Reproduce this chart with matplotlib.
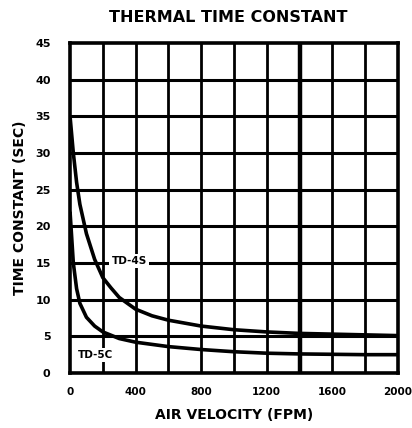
import matplotlib
matplotlib.use("Agg")
import matplotlib.pyplot as plt
import numpy as np

# Air velocity (FPM) and thermal time constant (s) for each sensor
td4s_velocity = [0, 20, 40, 60, 100, 150, 200, 250, 300, 400, 500, 600, 800, 1000, 1200, 1400, 1600, 1800, 2000]
td4s_time = [35, 30, 26, 23, 19, 15.5, 13, 11.6, 10.3, 8.7, 7.8, 7.2, 6.4, 5.9, 5.6, 5.4, 5.3, 5.2, 5.1]

td5c_velocity = [0, 20, 40, 60, 100, 150, 200, 300, 400, 600, 800, 1000, 1200, 1400, 1600, 1800, 2000]
td5c_time = [22, 15, 11.5, 9.5, 7.6, 6.4, 5.6, 4.7, 4.2, 3.6, 3.2, 2.9, 2.7, 2.6, 2.55, 2.5, 2.5]

x_ticks = [0, 400, 800, 1200, 1600, 2000]
y_ticks = [0, 5, 10, 15, 20, 25, 30, 35, 40, 45]

fig = plt.figure(figsize=(4.12, 4.28), dpi=100)
ax = fig.add_axes([0.170, 0.1285, 0.796, 0.771])

ax.set_xlim(0, 2000)
ax.set_ylim(0, 45)

# grid: every 200 FPM and every 5 s
for xv in np.arange(200, 2000, 200):
    lw = 3.2 if xv == 1400 else 2.0
    ax.axvline(xv, color="black", lw=lw, zorder=1)
for yv in np.arange(5, 45, 5):
    ax.axhline(yv, color="black", lw=2.2, zorder=1)

ax.plot(td4s_velocity, td4s_time, color="black", lw=2.6, zorder=3, solid_capstyle="butt")
ax.plot(td5c_velocity, td5c_time, color="black", lw=2.6, zorder=3, solid_capstyle="butt")

ax.text(360, 15.3, "TD-4S", fontsize=7.5, fontweight="bold", ha="center", va="center",
        zorder=4, bbox=dict(facecolor="white", edgecolor="none", pad=1.5))
ax.text(155, 2.5, "TD-5C", fontsize=7.5, fontweight="bold", ha="center", va="center",
        zorder=4, bbox=dict(facecolor="white", edgecolor="none", pad=1.5))

for s in ax.spines.values():
    s.set_linewidth(2.6)
    s.set_color("black")

ax.set_xticks(x_ticks)
ax.set_yticks(y_ticks)
ax.set_xticklabels([str(v) for v in x_ticks], fontsize=7.5, fontweight="bold")
ax.set_yticklabels([str(v) for v in y_ticks], fontsize=8, fontweight="bold")
ax.tick_params(axis="x", length=0, pad=10)
ax.tick_params(axis="y", length=0, pad=14)

ax.set_xlabel("AIR VELOCITY (FPM)", fontsize=10, fontweight="bold", labelpad=8)
ax.set_ylabel("TIME CONSTANT (SEC)", fontsize=10, fontweight="bold", labelpad=6)
fig.text(0.555, 0.958, "THERMAL TIME CONSTANT", fontsize=11.5, fontweight="bold",
         ha="center", va="center")

fig.savefig("out.png", dpi=100)
